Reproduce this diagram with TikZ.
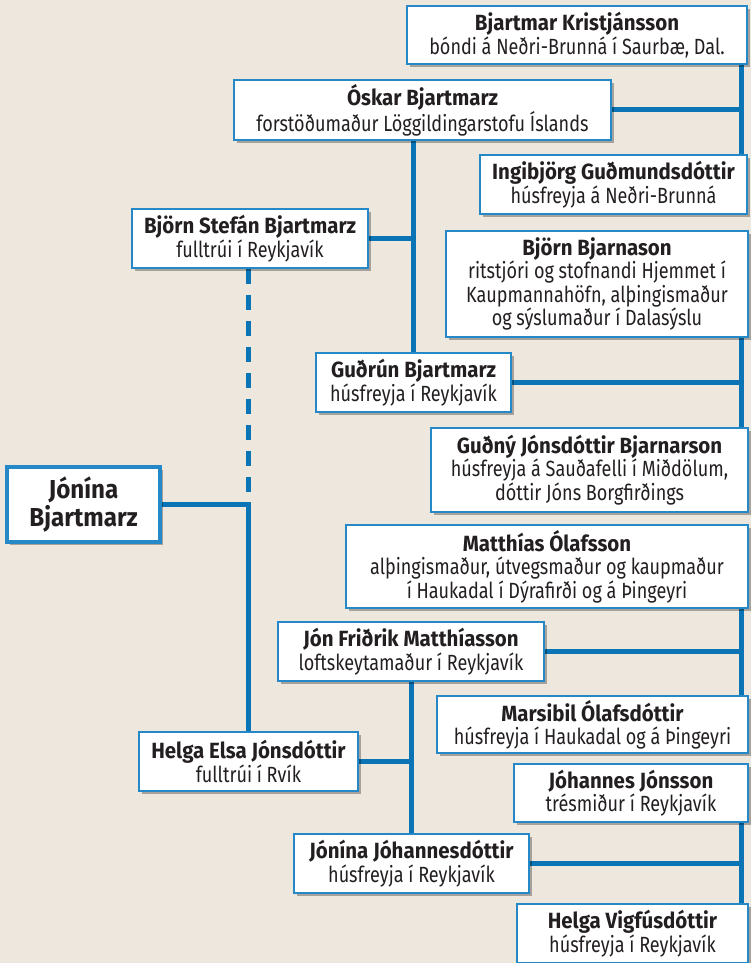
\documentclass[tikz,border=0pt]{standalone}
\usepackage{fontspec}
\setmainfont{Fira Sans}[UprightFeatures={FakeStretch=0.82}, BoldFeatures={FakeStretch=0.93}]
\usepackage{tikz}
\usetikzlibrary{positioning, calc, backgrounds, shadows}
\definecolor{Paper}{HTML}{EEE7DE}
\definecolor{FrameBlue}{HTML}{2589C7}
\definecolor{LineBlue}{HTML}{0A74B5}
\definecolor{Ink}{HTML}{231F20}

\begin{document}
\begin{tikzpicture}[
  x=0.75pt, y=-0.75pt,
  person/.style={rectangle, draw=FrameBlue, line width=1.1pt, fill=white, text=Ink, inner sep=0pt, align=center, font=\fontsize{16.5}{17.5}\selectfont, drop shadow={shadow xshift=2pt, shadow yshift=-2pt, opacity=0.3, fill=black}},
  root/.style={person, line width=3pt, font=\fontsize{19.5}{20.5}\selectfont\bfseries},
  link/.style={LineBlue, line width=3.75pt},
  dashlink/.style={link, dash pattern=on 11.25pt off 8.25pt}
]
  \useasboundingbox (0,0) rectangle (751,963);

  \node[person, minimum width=255pt, minimum height=43.5pt] (bk) at (577,35) {\textbf{Bjartmar Kristjánsson}\\bóndi á Neðri-Brunná í Saurbæ, Dal.};
  \node[person, minimum width=282.75pt, minimum height=45pt] (osk) at (422.5,110) {\textbf{Óskar Bjartmarz}\\forstöðumaður Löggildingarstofu Íslands};
  \node[person, minimum width=200.25pt, minimum height=44.25pt] (ing) at (613.5,184.5) {\textbf{Ingibjörg Guðmundsdóttir}\\húsfreyja á Neðri-Brunná};
  \node[person, minimum width=177pt, minimum height=44.25pt] (bsb) at (250,238.5) {\textbf{Björn Stefán Bjartmarz}\\fulltrúi í Reykjavík};
  \node[person, minimum width=226.5pt, minimum height=79.5pt] (bb) at (597,284) {\textbf{Björn Bjarnason}\\ritstjóri og stofnandi Hjemmet í\\Kaupmannahöfn, alþingismaður\\og sýslumaður í Dalasýslu};
  \node[person, minimum width=146.25pt, minimum height=44.25pt] (gb) at (413.5,382.5) {\textbf{Guðrún Bjartmarz}\\húsfreyja í Reykjavík};
  \node[person, minimum width=237.75pt, minimum height=63pt] (gj) at (589.5,470) {\textbf{Guðný Jónsdóttir Bjarnarson}\\húsfreyja á Sauðafelli í Miðdölum,\\dóttir Jóns Borgfirðings};
  \node[root, minimum width=114.75pt, minimum height=56.25pt] (jb) at (83.5,504.5) {Jónína\\Bjartmarz};
  \node[person, minimum width=301.5pt, minimum height=62.25pt] (mo) at (547,566.5) {\textbf{Matthías Ólafsson}\\alþingismaður, útvegsmaður og kaupmaður\\í Haukadal í Dýrafirði og á Þingeyri};
  \node[person, minimum width=199.5pt, minimum height=44.25pt] (jfm) at (411,651.5) {\textbf{Jón Friðrik Matthíasson}\\loftskeytamaður í Reykjavík};
  \node[person, minimum width=233.25pt, minimum height=42.75pt] (mol) at (592.5,724.5) {\textbf{Marsibil Ólafsdóttir}\\húsfreyja í Haukadal og á Þingeyri};
  \node[person, minimum width=164.25pt, minimum height=44.25pt] (hej) at (248.5,761.5) {\textbf{Helga Elsa Jónsdóttir}\\fulltrúi í Rvík};
  \node[person, minimum width=175.5pt, minimum height=43.5pt] (jj) at (631,793) {\textbf{Jóhannes Jónsson}\\trésmiður í Reykjavík};
  \node[person, minimum width=176.25pt, minimum height=44.25pt] (jjd) at (411.5,863.5) {\textbf{Jónína Jóhannesdóttir}\\húsfreyja í Reykjavík};
  \node[person, minimum width=173.25pt, minimum height=44.25pt] (hv) at (632.5,933.5) {\textbf{Helga Vigfúsdóttir}\\húsfreyja í Reykjavík};

  \coordinate (rx) at (741,0);

  \begin{scope}[on background layer]
    \fill[Paper] (0,0) rectangle (751,963);
    \draw[link] (bk.south -| rx) -- (ing.north -| rx);
    \draw[link] (osk.east) -- (osk.east -| rx);
    \draw[link] (osk.south -| gb.north) -- (gb.north);
    \draw[link] (bsb.east) -- (bsb.east -| gb.north);
    \draw[link] (bb.south -| rx) -- (gj.north -| rx);
    \draw[link] (gb.east) -- (gb.east -| rx);
    \draw[dashlink] (bsb.south -| hej.north) -- (jb.east -| hej.north);
    \draw[link] (jb.east) -- (jb.east -| hej.north) -- (hej.north);
    \draw[link] (mo.south -| rx) -- (mol.north -| rx);
    \draw[link] (jfm.east) -- (jfm.east -| rx);
    \draw[link] (jfm.south) -- (jjd.north -| jfm.south);
    \draw[link] (hej.east) -- (hej.east -| jfm.south);
    \draw[link] (jj.south -| rx) -- (hv.north -| rx);
    \draw[link] (jjd.east) -- (jjd.east -| rx);
  \end{scope}
\end{tikzpicture}
\end{document}
